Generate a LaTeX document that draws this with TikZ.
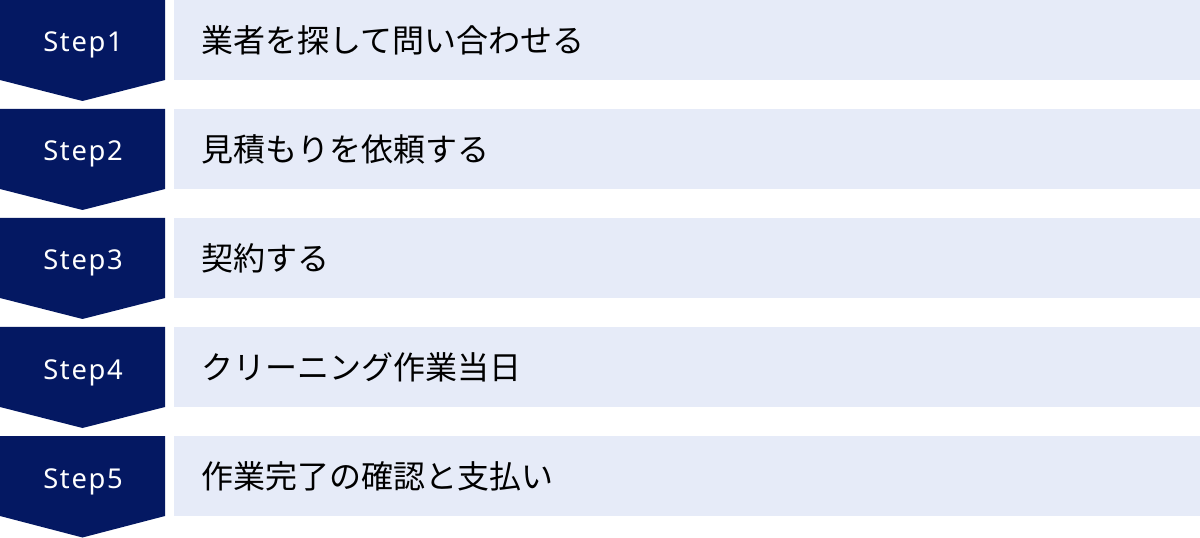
\documentclass[tikz,border=0pt]{standalone}
\usepackage{fontspec}
\newfontfamily\jpfont{Noto Sans CJK JP}
\newfontfamily\stepfont[LetterSpace=6]{Noto Sans}
\usetikzlibrary{positioning}
\definecolor{stepnavy}{HTML}{041862}
\definecolor{rowblue}{HTML}{E6EBF8}
\tikzset{steparrow/.style={fill=stepnavy}, rowbox/.style={fill=rowblue},
 steplabel/.style={text=white, font=\stepfont\fontsize{20.5}{24}\selectfont, inner sep=0pt, anchor=base},
 rowlabel/.style={text=black, font=\jpfont\fontsize{24}{28}\selectfont, anchor=west, inner sep=0pt}}

\begin{document}
\begin{tikzpicture}[x=0.75pt,y=-0.75pt]
   \useasboundingbox (0,0) rectangle (1200,538);

   \begin{scope}[shift={(0,0)}]
    \fill[steparrow] (0,0) -- (165,0) -- (165,80) -- (82.5,101) -- (0,80) -- cycle;
    \fill[rowbox] (174,0) rectangle (1200,80);
    \node[steplabel] (s1) at (83,52) {Step1};
    \node[rowlabel] (t1) at (201,40) {業者を探して問い合わせる};
   \end{scope}
   \begin{scope}[shift={(0,109)}]
    \fill[steparrow] (0,0) -- (165,0) -- (165,80) -- (82.5,101) -- (0,80) -- cycle;
    \fill[rowbox] (174,0) rectangle (1200,80);
    \node[steplabel] (s2) at (83,52) {Step2};
    \node[rowlabel] (t2) at (201,40) {見積もりを依頼する};
   \end{scope}
   \begin{scope}[shift={(0,218)}]
    \fill[steparrow] (0,0) -- (165,0) -- (165,80) -- (82.5,101) -- (0,80) -- cycle;
    \fill[rowbox] (174,0) rectangle (1200,80);
    \node[steplabel] (s3) at (83,52) {Step3};
    \node[rowlabel] (t3) at (201,40) {契約する};
   \end{scope}
   \begin{scope}[shift={(0,327)}]
    \fill[steparrow] (0,0) -- (165,0) -- (165,80) -- (82.5,101) -- (0,80) -- cycle;
    \fill[rowbox] (174,0) rectangle (1200,80);
    \node[steplabel] (s4) at (83,52) {Step4};
    \node[rowlabel] (t4) at (201,40) {クリーニング作業当日};
   \end{scope}
   \begin{scope}[shift={(0,436)}]
    \fill[steparrow] (0,0) -- (165,0) -- (165,80) -- (82.5,101.5) -- (0,80) -- cycle;
    \fill[rowbox] (174,0) rectangle (1200,80);
    \node[steplabel] (s5) at (83,52) {Step5};
    \node[rowlabel] (t5) at (201,40) {作業完了の確認と支払い};
   \end{scope}
\end{tikzpicture}
\end{document}
